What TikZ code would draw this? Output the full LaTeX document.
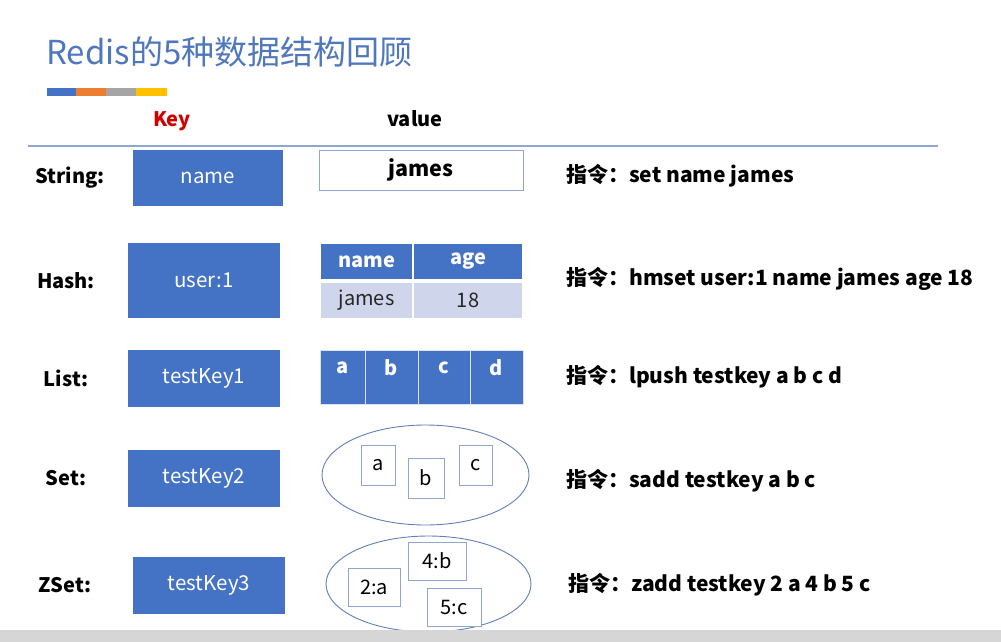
\documentclass[tikz,border=0pt]{standalone}
\usepackage{fontspec}
\setmainfont{Noto Sans CJK SC}
\usetikzlibrary{shapes.geometric}

\definecolor{keyblue}{RGB}{68,114,196}
\definecolor{titleblue}{RGB}{79,119,190}
\definecolor{rowlilac}{RGB}{207,213,234}
\definecolor{edgeblue}{RGB}{143,166,206}
\definecolor{ringblue}{RGB}{98,126,186}
\definecolor{keyred}{RGB}{208,0,0}
\definecolor{barorange}{RGB}{237,125,49}
\definecolor{bargray}{RGB}{165,165,165}
\definecolor{baryellow}{RGB}{255,192,0}

\begin{document}
\begin{tikzpicture}[x=1pt,y=1pt,yscale=-1,xscale=1,
  keybox/.style={rectangle,fill=keyblue,text=white,inner sep=0pt,font=\fontsize{20.5}{24}\selectfont},
  headcell/.style={rectangle,fill=keyblue,draw=white,line width=1.5pt,text=white,inner sep=0pt,font=\bfseries\fontsize{20}{24}\selectfont},
  rowcell/.style={rectangle,fill=rowlilac,draw=white,line width=1.5pt,text=black!85,inner sep=0pt,font=\fontsize{20}{24}\selectfont},
  listcell/.style={rectangle,fill=keyblue,draw=white!80!keyblue,line width=0.8pt,inner sep=0pt,minimum height=54},
  celltext/.style={text=white,font=\bfseries\fontsize{20}{24}\selectfont},
  elem/.style={rectangle,draw=edgeblue,fill=white,line width=0.9pt,inner sep=0pt,font=\fontsize{20}{24}\selectfont},
  bag/.style={ellipse,draw=ringblue,line width=0.9pt,inner sep=0pt},
  typelabel/.style={font=\bfseries\fontsize{20}{24}\selectfont},
  cmd/.style={anchor=west,inner sep=0pt,font=\bfseries\fontsize{21}{25}\selectfont}]
\useasboundingbox (0,0) rectangle (1001,642);

% Title
\node (title) [anchor=base west,inner sep=0pt,text=titleblue,font=\fontsize{33}{38}\selectfont] at (46,65) {Redis的5种数据结构回顾};
\fill [keyblue] (47,88) rectangle (76,96);
\fill [barorange] (76,88) rectangle (106,96);
\fill [bargray] (106,88) rectangle (136,96);
\fill [baryellow] (136,88) rectangle (167,96);

% Header
\node (keyhead) [text=keyred,font=\bfseries\fontsize{20}{24}\selectfont] at (172,121) {Key};
\node (valhead) [font=\bfseries\fontsize{20}{24}\selectfont] at (415,119) {value};
\draw [color=edgeblue,line width=1.2pt] (28,146) -- (938,146);

% String
\node (lstring) [typelabel] at (70,178) {String:};
\node (kstring) [keybox,minimum width=150,minimum height=56] at (208,178) {name};
\node (vstring) [rectangle,draw=edgeblue,line width=1pt,minimum width=204,minimum height=40,inner sep=0pt,font=\bfseries\fontsize{21.5}{25}\selectfont] at (421,170) {james};
\node (cstring) [cmd] at (566,176) {指令：set name james};

% Hash
\node (lhash) [typelabel] at (66,281) {Hash:};
\node (khash) [keybox,minimum width=152,minimum height=75] at (204,280.5) {user:1};
\node (hname) [headcell,minimum width=93,minimum height=37] at (366.5,261.5) {name};
\node (hage) [headcell,minimum width=110,minimum height=37] at (468,261.5) {age};
\node (rname) [rowcell,minimum width=93,minimum height=37] at (366.5,300.5) {james};
\node (rage) [rowcell,minimum width=110,minimum height=37] at (468,300.5) {18};
\node (chash) [cmd] at (566,279) {指令：hmset user:1 name james age 18};

% List
\node (llist) [typelabel] at (66,378) {List:};
\node (klist) [keybox,minimum width=152,minimum height=57] at (204,378.5) {testKey1};
\node (la) [listcell,minimum width=45] at (342.5,377) {};
\node (lb) [listcell,minimum width=53] at (391.5,377) {};
\node (lc) [listcell,minimum width=52] at (444,377) {};
\node (ld) [listcell,minimum width=53] at (496.5,377) {};
\node (ta) [celltext] at (342.5,368) {a};
\node (tb) [celltext] at (391.5,368) {b};
\node (tc) [celltext] at (444,368) {c};
\node (td) [celltext] at (496.5,368) {d};
\node (clist) [cmd] at (566,377) {指令：lpush testkey a b c d};

% Set
\node (lset) [typelabel] at (66,478) {Set:};
\node (kset) [keybox,minimum width=152,minimum height=57] at (204,478.5) {testKey2};
\node (sbag) [bag,minimum width=207,minimum height=100] at (425.5,475) {};
\node (sa) [elem,minimum width=34,minimum height=40] at (378,465) {a};
\node (sb) [elem,minimum width=36,minimum height=40] at (426,478) {b};
\node (sc) [elem,minimum width=33,minimum height=40] at (475.5,465) {c};
\node (cset) [cmd] at (566,481) {指令：sadd testkey a b c};

% ZSet
\node (lzset) [typelabel] at (65,585) {ZSet:};
\node (kzset) [keybox,minimum width=152,minimum height=57] at (209,585.5) {testKey3};
\node (zbag) [bag,minimum width=205,minimum height=96] at (428.5,584) {};
\node (za) [elem,minimum width=52,minimum height=38] at (374,587) {2:a};
\node (zb) [elem,minimum width=58,minimum height=38] at (437,561) {4:b};
\node (zc) [elem,minimum width=54,minimum height=38] at (454,607) {5:c};
\node (czset) [cmd] at (568,585) {指令：zadd testkey 2 a 4 b 5 c};

% bottom strip
\fill [black!16] (0,630) rectangle (1001,642);

\end{tikzpicture}
\end{document}
